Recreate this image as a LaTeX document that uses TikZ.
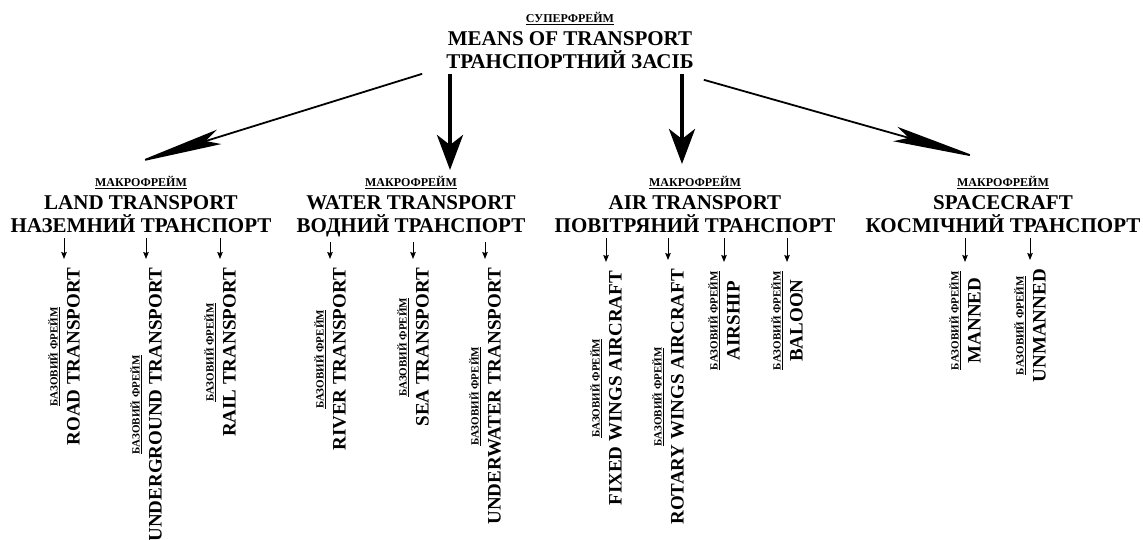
\documentclass[tikz,border=0pt]{standalone}
\usepackage{fontspec}
\setmainfont{Liberation Serif}
\usetikzlibrary{arrows.meta}
\newcommand\mylbl[1]{{\fontsize{12}{14}\selectfont\underline{#1}}}
\newcommand\mybl[1]{{\fontsize{11}{13}\selectfont\underline{#1}}}
\begin{document}
\begin{tikzpicture}[x=1pt,y=-1pt,
  macro/.style={anchor=north,align=center,inner sep=0pt,font=\bfseries\fontsize{21}{23}\selectfont},
  basen/.style={rotate=90,anchor=east,align=center,inner sep=0pt,font=\bfseries\fontsize{19}{22}\selectfont},
  diag/.style={line width=1.8pt,-{Stealth[length=88pt,width=15pt,inset=14pt]}},
  vert/.style={line width=4pt,-{Stealth[length=35pt,width=26pt,inset=10pt]}},
  sarrow/.style={line width=1pt,-{Stealth[length=7pt,width=5.5pt,inset=1pt]},shorten <=5pt,shorten >=9pt}
]
\useasboundingbox[fill=white] (0,0) rectangle (1143,540);

\node[macro] (top) at (570,12) {\mylbl{СУПЕРФРЕЙМ}\\MEANS OF TRANSPORT\\ТРАНСПОРТНИЙ ЗАСІБ};

\node[macro] (land) at (141,176) {\mylbl{МАКРОФРЕЙМ}\\LAND TRANSPORT\\НАЗЕМНИЙ ТРАНСПОРТ};
\node[macro] (water) at (411,176) {\mylbl{МАКРОФРЕЙМ}\\WATER TRANSPORT\\ВОДНИЙ ТРАНСПОРТ};
\node[macro] (air) at (695,176) {\mylbl{МАКРОФРЕЙМ}\\AIR TRANSPORT\\ПОВІТРЯНИЙ ТРАНСПОРТ};
\node[macro] (space) at (1003,176) {\mylbl{МАКРОФРЕЙМ}\\SPACECRAFT\\КОСМІЧНИЙ ТРАНСПОРТ};

\draw[diag] ([shift={(-24,5)}]top.south west) -- ([shift={(-6,-13)}]land.north);
\draw[vert] ([shift={(-120,5)}]top.south) -- ([shift={(39,-6)}]water.north);
\draw[vert] ([shift={(112,5)}]top.south) -- ([shift={(-13,-12)}]air.north);
\draw[diag] ([shift={(10,11)}]top.south east) -- ([shift={(-23,-18)}]space.north);

\node[basen] (b1) at (64,268) {\mybl{БАЗОВИЙ ФРЕЙМ}\\ROAD TRANSPORT};
\node[basen] (b2) at (146,268) {\mybl{БАЗОВИЙ ФРЕЙМ}\\UNDERGROUND TRANSPORT};
\node[basen] (b3) at (220,268) {\mybl{БАЗОВИЙ ФРЕЙМ}\\RAIL TRANSPORT};
\node[basen] (b4) at (330,268) {\mybl{БАЗОВИЙ ФРЕЙМ}\\RIVER TRANSPORT};
\node[basen] (b5) at (413,268) {\mybl{БАЗОВИЙ ФРЕЙМ}\\SEA TRANSPORT};
\node[basen] (b6) at (485,268) {\mybl{БАЗОВИЙ ФРЕЙМ}\\UNDERWATER TRANSPORT};
\node[basen] (b7) at (606,271) {\mybl{БАЗОВИЙ ФРЕЙМ}\\FIXED WINGS AIRCRAFT};
\node[basen] (b8) at (668,269) {\mybl{БАЗОВИЙ ФРЕЙМ}\\ROTARY WINGS AIRCRAFT};
\node[basen] (b9) at (724,271) {\mybl{БАЗОВИЙ ФРЕЙМ}\\AIRSHIP};
\node[basen] (b10) at (787,271) {\mybl{БАЗОВИЙ ФРЕЙМ}\\BALOON};
\node[basen] (b11) at (965,271) {\mybl{БАЗОВИЙ ФРЕЙМ}\\MANNED};
\node[basen] (b12) at (1030,269) {\mybl{БАЗОВИЙ ФРЕЙМ}\\UNMANNED};

\foreach \m/\b in {land/b1,land/b2,land/b3,water/b4,water/b5,water/b6,air/b7,air/b8,air/b9,air/b10,space/b11,space/b12}
  \draw[sarrow] (\m.south -| \b) -- (\b.east);
\end{tikzpicture}
\end{document}
